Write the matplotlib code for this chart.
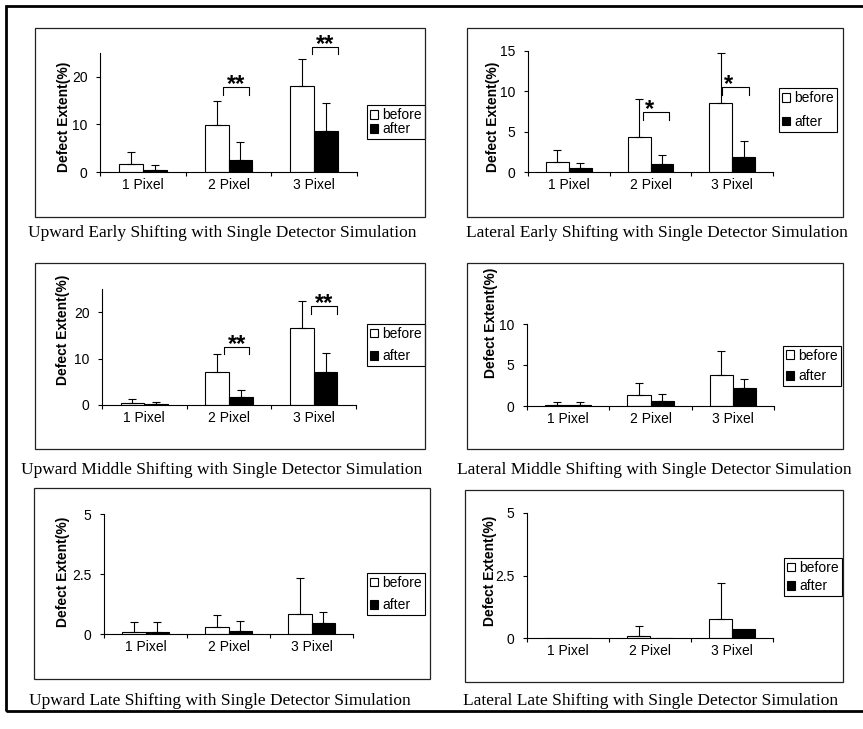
import matplotlib
matplotlib.use("Agg")
import matplotlib.pyplot as plt
import numpy as np
from matplotlib.patches import Rectangle

W, H = 863, 729

categories = ["1 Pixel", "2 Pixel", "3 Pixel"]
series_names = ["before", "after"]
titles = [
    "Upward Early Shifting with Single Detector Simulation",
    "Lateral Early Shifting with Single Detector Simulation",
    "Upward Middle Shifting with Single Detector Simulation",
    "Lateral Middle Shifting with Single Detector Simulation",
    "Upward Late Shifting with Single Detector Simulation",
    "Lateral Late Shifting with Single Detector Simulation",
]
ylabel = "Defect Extent(%)"

# mean defect extent and (upper) error, one row per panel
before_mean = [
    [1.6, 9.8, 18.1],
    [1.2, 4.3, 8.5],
    [0.5, 7.1, 16.6],
    [0.1, 1.4, 3.8],
    [0.08, 0.3, 0.83],
    [0.0, 0.09, 0.78],
]
before_err = [
    [2.6, 5.1, 5.6],
    [1.5, 4.8, 6.2],
    [0.7, 3.8, 5.8],
    [0.4, 1.35, 2.85],
    [0.43, 0.5, 1.5],
    [0.0, 0.39, 1.42],
]
after_mean = [
    [0.5, 2.5, 8.6],
    [0.45, 1.05, 1.85],
    [0.2, 1.8, 7.1],
    [0.1, 0.55, 2.2],
    [0.1, 0.11, 0.44],
    [0.0, 0.0, 0.36],
]
after_err = [
    [1.0, 3.8, 5.8],
    [0.65, 1.05, 2.05],
    [0.4, 1.4, 4.1],
    [0.4, 0.9, 1.1],
    [0.41, 0.42, 0.46],
    [0.0, 0.0, 0.0],
]
y_max = [25, 15, 25, 10, 5, 5]
y_ticks = [[0, 10, 20], [0, 5, 10, 15], [0, 10, 20], [0, 5, 10], [0, 2.5, 5], [0, 2.5, 5]]

# significance brackets: category index, label, bracket top value
sig_groups = [[1, 2], [1, 2], [1, 2], [], [], []]
sig_labels = [["**", "**"], ["*", "*"], ["**", "**"], [], [], []]
sig_tops = [[17.8, 26.3], [7.5, 10.5], [12.6, 21.4], [], [], []]

# ---- layout (pixels in the 863x729 image) ----
axes_px = [(100, 53, 357, 172), (528, 51, 773, 172), (102, 289, 356, 405),
           (527, 324, 774, 406), (104, 514, 353, 634), (527, 513, 773, 638)]
box_px = [(35, 28, 425, 217), (467, 28, 843, 217), (35, 263, 425, 449),
          (467, 263, 843, 449), (34, 488, 430, 679), (465, 490, 843, 682)]
legend_px = [(367, 122), (779, 110), (367, 345), (783, 366), (367, 594), (784, 577)]
legend_space = [0.0, 0.7, 0.6, 0.5, 0.6, 0.3]
ylabel_px = [(64, 117), (493, 117), (63, 330), (491, 323), (63, 572), (490, 571)]
title_px = [(222, 233), (657, 233), (222, 470), (654, 470), (220, 701), (651, 701)]
# bracket x extents (relative to category centre), drop, star x offset
bracket_x = [[(-0.06, 0.24), (-0.03, 0.28)], [(-0.09, 0.23), (-0.12, 0.20)],
             [(-0.06, 0.24), (-0.03, 0.28)], [], [], []]
bracket_drop = [[1.7, 1.5], [1.0, 0.9], [1.7, 1.8], [], [], []]
star_dx = [[0.09, 0.125], [-0.01, -0.04], [0.09, 0.125], [], [], []]

SANS = "Liberation Sans"
SERIF = "Liberation Serif"
FS = 10


def fx(x):
    return x / W


def fy(y):
    return 1 - y / H


fig = plt.figure(figsize=(W / 100, H / 100), dpi=100)
fig.patch.set_facecolor("white")

# outer frame (right side runs off the page)
fig.add_artist(Rectangle((fx(6), fy(711)), fx(870) - fx(6), fy(6) - fy(711),
                         fill=False, lw=2, edgecolor="black", transform=fig.transFigure))

x = np.arange(len(categories))
w = 0.28

for i in range(6):
    bx0, by0, bx1, by1 = box_px[i]
    fig.add_artist(Rectangle((fx(bx0), fy(by1)), fx(bx1) - fx(bx0), fy(by0) - fy(by1),
                             fill=False, lw=0.9, edgecolor="#222222", transform=fig.transFigure))

    l, t, r, b = axes_px[i]
    ax = fig.add_axes([fx(l), fy(b), fx(r) - fx(l), fy(t) - fy(b)])
    ax.set_facecolor("none")

    bars_b = ax.bar(x - w / 2, before_mean[i], w, color="white", edgecolor="black",
                    lw=0.8, label=series_names[0], zorder=2)
    bars_a = ax.bar(x + w / 2, after_mean[i], w, color="black", edgecolor="black",
                    lw=0.8, label=series_names[1], zorder=2)

    for off, vals, errs in [(-w / 2, before_mean[i], before_err[i]),
                            (w / 2, after_mean[i], after_err[i])]:
        vals = np.array(vals)
        errs = np.array(errs)
        m = errs > 0
        if m.any():
            ax.errorbar(x[m] + off, vals[m], yerr=[np.zeros(m.sum()), errs[m]], fmt="none",
                        ecolor="black", elinewidth=0.8, capsize=3, capthick=0.8,
                        zorder=3, clip_on=False)

    for j, g in enumerate(sig_groups[i]):
        x0, x1 = bracket_x[i][j]
        top = sig_tops[i][j]
        drop = bracket_drop[i][j]
        ax.plot([g + x0, g + x0, g + x1, g + x1], [top - drop, top, top, top - drop],
                color="black", lw=0.8, clip_on=False)
        ax.annotate(sig_labels[i][j], xy=(g + star_dx[i][j], top), xytext=(0, -3),
                    textcoords="offset points", ha="center", va="baseline",
                    fontsize=17, fontweight="bold", family=SANS, annotation_clip=False)

    ax.set_xlim(-0.5, 2.5)
    ax.set_ylim(0, y_max[i])
    ax.set_yticks(y_ticks[i])
    ax.set_yticklabels([f"{v:g}" for v in y_ticks[i]], family=SANS, fontsize=FS)
    ax.set_xticks(x)
    ax.set_xticklabels(categories, family=SANS, fontsize=FS)
    ax.set_xticks(np.arange(-0.5, 3, 1), minor=True)
    ax.tick_params(axis="x", which="major", length=0, pad=4)
    ax.tick_params(axis="x", which="minor", length=3, width=0.8, direction="out")
    ax.tick_params(axis="y", length=3, width=0.8, direction="out", pad=6)
    for s in ["top", "right"]:
        ax.spines[s].set_visible(False)
    for s in ["left", "bottom"]:
        ax.spines[s].set_linewidth(0.8)

    lx, ly = legend_px[i]
    leg = ax.legend(handles=[bars_b, bars_a], loc="center left",
                    bbox_to_anchor=(fx(lx), fy(ly)), bbox_transform=fig.transFigure,
                    frameon=True, fancybox=False, framealpha=1, edgecolor="black",
                    prop={"family": SANS, "size": FS}, handlelength=0.6, handleheight=0.6,
                    handletextpad=0.3, borderpad=0.2, borderaxespad=0,
                    labelspacing=legend_space[i])
    leg.get_frame().set_linewidth(0.8)

    yx, yy = ylabel_px[i]
    fig.text(fx(yx), fy(yy), ylabel, rotation=90, ha="center", va="center",
             family=SANS, fontsize=FS, fontweight="bold")

    tx, ty = title_px[i]
    fig.text(fx(tx), fy(ty), titles[i], ha="center", va="center", family=SERIF, fontsize=12.5)

fig.savefig("out.png", dpi=100, facecolor="white")
